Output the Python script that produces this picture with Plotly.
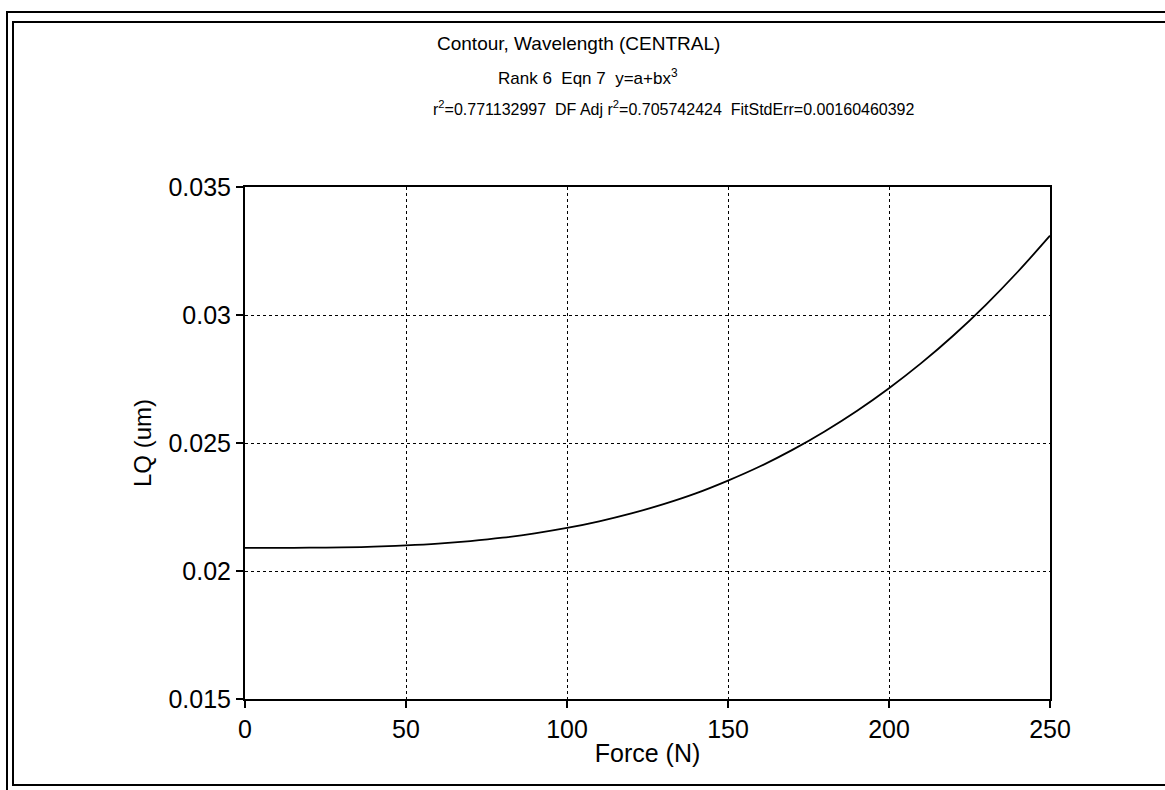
import plotly.graph_objects as go

force = [0, 10, 20, 30, 40, 50, 60, 70, 80, 90, 100, 110, 120, 130, 140, 150,
         160, 170, 180, 190, 200, 210, 220, 230, 240, 250]
lq = [0.02090, 0.02090, 0.02091, 0.02092, 0.02095, 0.02100, 0.02107, 0.02117,
      0.02130, 0.02147, 0.02168, 0.02194, 0.02225, 0.02261, 0.02303, 0.02353,
      0.02409, 0.02473, 0.02545, 0.02625, 0.02714, 0.02812, 0.02920, 0.03039,
      0.03169, 0.03310]

x_ticks = [0, 50, 100, 150, 200, 250]
y_ticks = [0.015, 0.02, 0.025, 0.03, 0.035]

W, H = 1165, 790
L, R, T, B = 245, 1050, 187, 699


def px(x):
    return (x - L) / (R - L)


def py(y):
    return (B - y) / (B - T)


FONT = "Liberation Sans, Arial, sans-serif"

fig = go.Figure()
fig.add_trace(go.Scatter(x=force, y=lq, mode="lines", line=dict(color="black", width=1.8, shape="spline"),
                         showlegend=False, hoverinfo="x+y"))

axis_common = dict(
    showline=True, linecolor="black", linewidth=2, mirror=True,
    showgrid=True, gridcolor="black", griddash="dot", gridwidth=1,
    ticks="outside", ticklen=7, tickwidth=2, tickcolor="black",
    zeroline=False,
    tickfont=dict(family=FONT, size=25, color="black"),
)

fig.update_xaxes(range=[0, 250], tickvals=x_ticks, ticktext=[str(v) for v in x_ticks],
                 title=dict(text="Force (N)", font=dict(family=FONT, size=25, color="black"), standoff=2),
                 **axis_common)
fig.update_yaxes(range=[0.015, 0.035], tickvals=y_ticks, ticktext=[f"{v:g}" for v in y_ticks],
                 title=dict(text="LQ (um)", font=dict(family=FONT, size=24, color="black"), standoff=10),
                 **axis_common)

annotations = [
    dict(text="Contour, Wavelength (CENTRAL)", x=px(578), y=py(43), font=dict(family=FONT, size=19, color="black")),
    dict(text="Rank 6  Eqn 7  y=a+bx<sup>3</sup>", x=px(588), y=py(77), font=dict(family=FONT, size=17, color="black")),
    dict(text="r<sup>2</sup>=0.771132997  DF Adj r<sup>2</sup>=0.705742424  FitStdErr=0.00160460392",
         x=px(674), y=py(108), font=dict(family=FONT, size=16, color="black")),
]
for a in annotations:
    a.update(xref="paper", yref="paper", showarrow=False, xanchor="center", yanchor="middle")

shapes = [
    dict(type="rect", xref="paper", yref="paper", x0=px(7), x1=px(1185), y0=py(12), y1=py(800),
         line=dict(color="black", width=2)),
    dict(type="rect", xref="paper", yref="paper", x0=px(13), x1=px(1180), y0=py(22), y1=py(785),
         line=dict(color="black", width=2)),
]

fig.update_layout(
    width=W, height=H,
    margin=dict(l=L, r=W - R, t=T, b=H - B),
    paper_bgcolor="white", plot_bgcolor="white",
    font=dict(family=FONT, color="black"),
    annotations=annotations, shapes=shapes,
)

fig.write_html("out.html")
